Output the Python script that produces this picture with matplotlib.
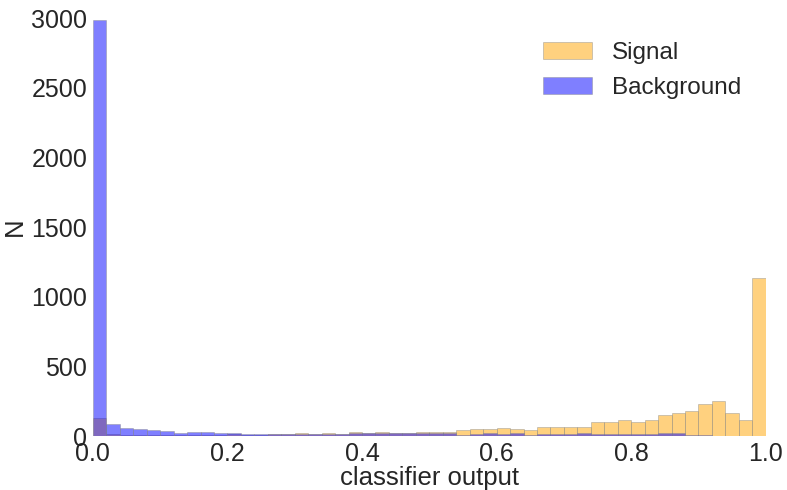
import numpy as np
import matplotlib
matplotlib.use("Agg")
import matplotlib.pyplot as plt

# 50 bins over the classifier output range
bin_edges = np.linspace(0.0, 1.0, 51)

# counts per bin
signal_counts = [127, 14, 10, 10, 9, 9, 8, 8, 9, 9,
                 14, 10, 10, 12, 14, 19, 12, 22, 14, 29,
                 19, 29, 19, 24, 26, 26, 29, 43, 50, 48,
                 55, 50, 43, 62, 67, 62, 65, 98, 98, 112,
                 100, 112, 151, 163, 179, 227, 251, 163, 112, 1132]
background_counts = [2985, 88, 57, 50, 45, 36, 24, 31, 31, 19,
                     19, 12, 12, 14, 14, 14, 14, 14, 14, 19,
                     19, 19, 19, 19, 22, 19, 22, 7, 17, 19,
                     14, 19, 7, 12, 14, 14, 19, 12, 17, 14,
                     12, 12, 22, 19, 10, 5, 3, 3, 1, 3]

plt.rcParams['font.family'] = ['Liberation Sans', 'DejaVu Sans']
text_color = '#262626'

fig, ax = plt.subplots(figsize=(7.87, 4.9), dpi=100)
fig.subplots_adjust(left=0.118, right=0.973, bottom=0.110, top=0.963)

centers = (bin_edges[:-1] + bin_edges[1:]) / 2
ax.hist(centers, bins=bin_edges, weights=signal_counts, color='orange', alpha=0.5,
        edgecolor='0.55', linewidth=0.6, label='Signal')
ax.hist(centers, bins=bin_edges, weights=background_counts, color='blue', alpha=0.5,
        edgecolor='0.55', linewidth=0.6, label='Background')

ax.set_xlim(0, 1)
ax.set_ylim(0, 3000)
ax.set_xticks([0.0, 0.2, 0.4, 0.6, 0.8, 1.0])
ax.set_yticks([0, 500, 1000, 1500, 2000, 2500, 3000])
ax.tick_params(axis='both', length=0, labelsize=18, labelcolor=text_color, pad=4)

for s in ax.spines.values():
    s.set_visible(False)

ax.set_xlabel('classifier output', fontsize=18.5, color=text_color, labelpad=0)
ax.set_ylabel('N', fontsize=18.5, color=text_color, labelpad=3)

ax.legend(loc='upper right', frameon=False, fontsize=17.5, handlelength=2.0,
          handletextpad=0.85, labelcolor=text_color, borderaxespad=0.6)

plt.savefig('out.png', dpi=100)
